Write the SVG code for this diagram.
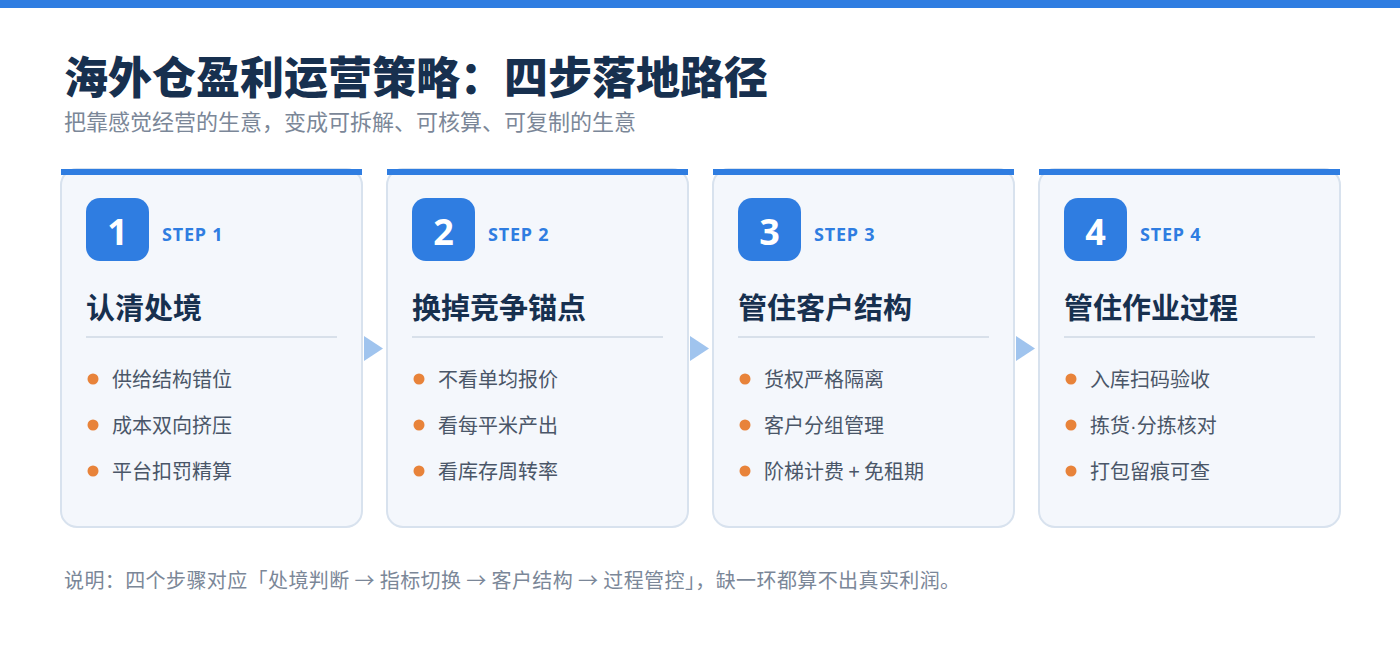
<svg xmlns="http://www.w3.org/2000/svg" width="1400" height="660" viewBox="0 0 1400 660">
<style>
.cjk{font-family:"Noto Sans CJK SC","Noto Sans",sans-serif}
.lat{font-family:"Liberation Sans","DejaVu Sans",sans-serif}
.title{font-size:44px;font-weight:900;fill:#17304f}
.sub{font-size:22px;fill:#7b8798}
.card{fill:#f4f7fc;stroke:#d8e2ee;stroke-width:2}
.bar{fill:#2f7de1}
.badge{fill:#2f7de1}
.num{font-family:"Noto Sans","Open Sans",sans-serif;font-size:36px;font-weight:700;fill:#ffffff;text-anchor:middle}
.step{font-family:"Noto Sans","Open Sans",sans-serif;font-size:18px;font-weight:700;fill:#2f7de1;letter-spacing:0.8px}
.ctitle{font-size:29px;font-weight:700;fill:#17304f}
.div{stroke:#d8e0ea;stroke-width:2}
.dot{fill:#e8833a}
.item{font-size:20px;fill:#4a5668}
.arrow{fill:#a0c4ee}
.foot{font-size:20px;fill:#7b8798;letter-spacing:0.4px}
</style>
<rect x="0" y="0" width="1400" height="660" fill="#ffffff"/>
<rect x="0" y="0" width="1400" height="8" fill="#2f7de1"/>
<text class="cjk title" x="64" y="94">海外仓盈利运营策略：四步落地路径</text>
<text class="cjk sub" x="64" y="130">把靠感觉经营的生意，变成可拆解、可核算、可复制的生意</text>

<g id="connectors">
<polygon class="arrow" points="364,336 364,361 383,348.5"/>
<polygon class="arrow" points="690,336 690,361 709,348.5"/>
<polygon class="arrow" points="1016,336 1016,361 1035,348.5"/>
</g>

<g id="step1">
<rect class="card" x="61" y="169" width="301" height="358" rx="16"/>
<rect class="bar" x="61" y="169" width="301" height="6"/>
<rect class="badge" x="86" y="198" width="63" height="63" rx="14"/>
<text class="num" x="117.5" y="245">1</text>
<text class="step" x="162" y="241">STEP 1</text>
<text class="cjk ctitle" x="86" y="319">认清处境</text>
<line class="div" x1="86" y1="337" x2="337" y2="337"/>
<circle class="dot" cx="93" cy="379" r="5.5"/>
<text class="cjk item" x="112" y="387">供给结构错位</text>
<circle class="dot" cx="93" cy="425" r="5.5"/>
<text class="cjk item" x="112" y="433">成本双向挤压</text>
<circle class="dot" cx="93" cy="471" r="5.5"/>
<text class="cjk item" x="112" y="479">平台扣罚精算</text>
</g>

<g id="step2">
<rect class="card" x="387" y="169" width="301" height="358" rx="16"/>
<rect class="bar" x="387" y="169" width="301" height="6"/>
<rect class="badge" x="412" y="198" width="63" height="63" rx="14"/>
<text class="num" x="443.5" y="245">2</text>
<text class="step" x="488" y="241">STEP 2</text>
<text class="cjk ctitle" x="412" y="319">换掉竞争锚点</text>
<line class="div" x1="412" y1="337" x2="663" y2="337"/>
<circle class="dot" cx="419" cy="379" r="5.5"/>
<text class="cjk item" x="438" y="387">不看单均报价</text>
<circle class="dot" cx="419" cy="425" r="5.5"/>
<text class="cjk item" x="438" y="433">看每平米产出</text>
<circle class="dot" cx="419" cy="471" r="5.5"/>
<text class="cjk item" x="438" y="479">看库存周转率</text>
</g>

<g id="step3">
<rect class="card" x="713" y="169" width="301" height="358" rx="16"/>
<rect class="bar" x="713" y="169" width="301" height="6"/>
<rect class="badge" x="738" y="198" width="63" height="63" rx="14"/>
<text class="num" x="769.5" y="245">3</text>
<text class="step" x="814" y="241">STEP 3</text>
<text class="cjk ctitle" x="738" y="319">管住客户结构</text>
<line class="div" x1="738" y1="337" x2="989" y2="337"/>
<circle class="dot" cx="745" cy="379" r="5.5"/>
<text class="cjk item" x="764" y="387">货权严格隔离</text>
<circle class="dot" cx="745" cy="425" r="5.5"/>
<text class="cjk item" x="764" y="433">客户分组管理</text>
<circle class="dot" cx="745" cy="471" r="5.5"/>
<text class="cjk item" x="764" y="479">阶梯计费 + 免租期</text>
</g>

<g id="step4">
<rect class="card" x="1039" y="169" width="301" height="358" rx="16"/>
<rect class="bar" x="1039" y="169" width="301" height="6"/>
<rect class="badge" x="1064" y="198" width="63" height="63" rx="14"/>
<text class="num" x="1095.5" y="245">4</text>
<text class="step" x="1140" y="241">STEP 4</text>
<text class="cjk ctitle" x="1064" y="319">管住作业过程</text>
<line class="div" x1="1064" y1="337" x2="1315" y2="337"/>
<circle class="dot" cx="1071" cy="379" r="5.5"/>
<text class="cjk item" x="1090" y="387">入库扫码验收</text>
<circle class="dot" cx="1071" cy="425" r="5.5"/>
<text class="cjk item" x="1090" y="433">拣货<tspan class="lat">·</tspan>分拣核对</text>
<circle class="dot" cx="1071" cy="471" r="5.5"/>
<text class="cjk item" x="1090" y="479">打包留痕可查</text>
</g>

<text class="cjk foot" x="64" y="588">说明：四个步骤对应「处境判断 → 指标切换 → 客户结构 → 过程管控」，缺一环都算不出真实利润。</text>
</svg>
